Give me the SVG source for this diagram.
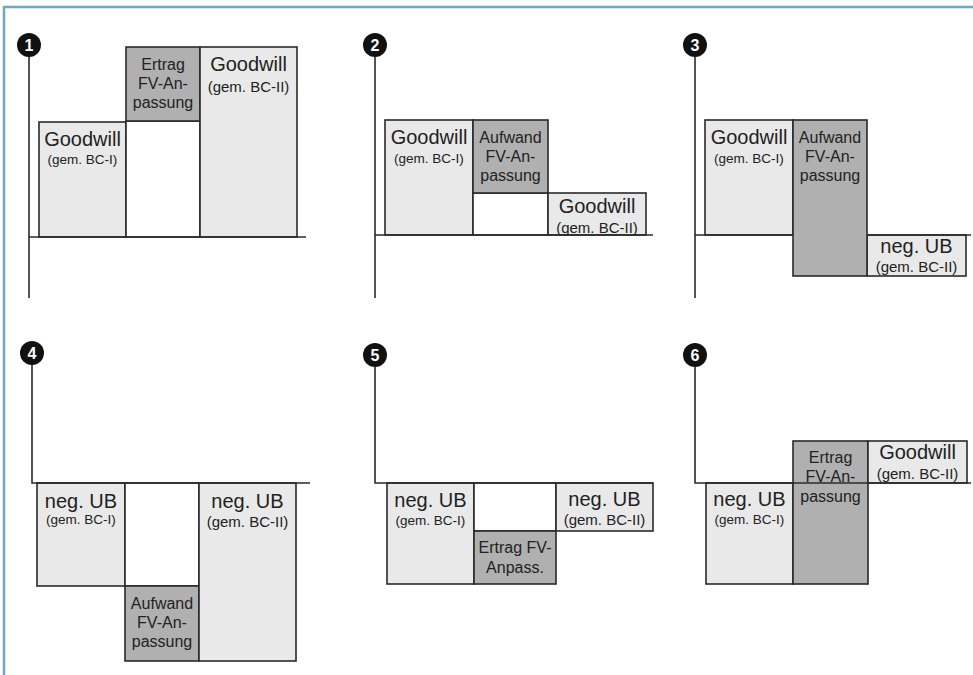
<svg xmlns="http://www.w3.org/2000/svg" width="973" height="675" viewBox="0 0 973 675">
<style>
.lt{fill:#e9e9e9;stroke:#2a2a2a;stroke-width:1.6}
.dk{fill:#b0b0b0;stroke:#2a2a2a;stroke-width:1.6}
.wh{fill:#ffffff;stroke:#2a2a2a;stroke-width:1.6}
.ax{stroke:#2a2a2a;stroke-width:1.6;fill:none}
text{font-family:"Liberation Sans",Arial,sans-serif;fill:#222;text-anchor:middle}
.big{font-size:20px}
.s1{font-size:13.5px}
.s2{font-size:15px}
.md{font-size:16px}
.num{font-size:16px;font-weight:bold;fill:#fff}
.bl{fill:#111}
</style>
<rect width="973" height="675" fill="#fff"/>
<g id="frame" stroke="#6fa7c6" stroke-width="2.5" fill="none">
<line x1="3" y1="7" x2="973" y2="7"/>
<line x1="4" y1="6" x2="4" y2="675"/>
</g>

<!-- Panel 1 -->
<g id="p1">
<g id="p1-goodwill1"><rect class="lt" x="39" y="122" width="87" height="115"/><text class="big" x="82.5" y="146">Goodwill</text><text class="s1" x="82.5" y="164">(gem. BC-I)</text></g>
<g id="p1-gap"><rect class="wh" x="126" y="121" width="74" height="116"/></g>
<g id="p1-ertrag"><rect class="dk" x="126" y="47" width="74" height="74"/><text class="md" x="163" y="70">Ertrag</text><text class="md" x="163" y="89">FV-An-</text><text class="md" x="163" y="108">passung</text></g>
<g id="p1-goodwill2"><rect class="lt" x="200" y="47" width="97" height="190"/><text class="big" x="248.5" y="71">Goodwill</text><text class="s2" x="248.5" y="92">(gem. BC-II)</text></g>
<g id="p1-label"><circle class="bl" cx="29" cy="45" r="12"/><text class="num" x="29" y="51">1</text></g>
</g>

<!-- Panel 2 -->
<g id="p2">
<g id="p2-goodwill1"><rect class="lt" x="385" y="120" width="88" height="115"/><text class="big" x="429" y="144">Goodwill</text><text class="s1" x="429" y="163">(gem. BC-I)</text></g>
<g id="p2-gap"><rect class="wh" x="473" y="193" width="75" height="42"/></g>
<g id="p2-aufwand"><rect class="dk" x="473" y="120" width="75" height="73"/><text class="md" x="510.5" y="143">Aufwand</text><text class="md" x="510.5" y="162">FV-An-</text><text class="md" x="510.5" y="181">passung</text></g>
<g id="p2-goodwill2"><rect class="lt" x="548" y="193" width="98" height="42"/><text class="big" x="597" y="213">Goodwill</text><text class="s2" x="597" y="233">(gem. BC-II)</text></g>
<g id="p2-label"><circle class="bl" cx="375" cy="45" r="12"/><text class="num" x="375" y="51">2</text></g>
</g>

<!-- Panel 3 -->
<g id="p3">
<g id="p3-goodwill1"><rect class="lt" x="705" y="120" width="88" height="115"/><text class="big" x="749" y="144">Goodwill</text><text class="s1" x="749" y="163">(gem. BC-I)</text></g>
<g id="p3-ub"><rect class="lt" x="867" y="235" width="99" height="41"/><text class="big" x="916.5" y="253">neg. UB</text><text class="s2" x="916.5" y="272">(gem. BC-II)</text></g>
<g id="p3-label"><circle class="bl" cx="695" cy="45" r="12"/><text class="num" x="695" y="51">3</text></g>
</g>

<!-- Panel 4 -->
<g id="p4">
<g id="p4-ub1"><rect class="lt" x="37" y="483" width="88" height="103"/><text class="big" x="81" y="508">neg. UB</text><text class="s1" x="81" y="524">(gem. BC-I)</text></g>
<g id="p4-gap"><rect class="wh" x="125" y="483" width="74" height="103"/></g>
<g id="p4-aufwand"><rect class="dk" x="125" y="586" width="74" height="75"/><text class="md" x="162" y="609">Aufwand</text><text class="md" x="162" y="628">FV-An-</text><text class="md" x="162" y="647">passung</text></g>
<g id="p4-ub2"><rect class="lt" x="199" y="483" width="97" height="178"/><text class="big" x="247.5" y="508">neg. UB</text><text class="s2" x="247.5" y="527">(gem. BC-II)</text></g>
<g id="p4-label"><circle class="bl" cx="32" cy="353" r="12"/><text class="num" x="32" y="359">4</text></g>
</g>

<!-- Panel 5 -->
<g id="p5">
<g id="p5-ub1"><rect class="lt" x="387" y="483" width="87" height="101"/><text class="big" x="430.5" y="507">neg. UB</text><text class="s1" x="430.5" y="525">(gem. BC-I)</text></g>
<g id="p5-gap"><rect class="wh" x="474" y="483" width="82" height="48"/></g>
<g id="p5-ertrag"><rect class="dk" x="474" y="531" width="82" height="53"/><text class="md" x="515" y="553">Ertrag FV-</text><text class="md" x="515" y="573">Anpass.</text></g>
<g id="p5-ub2"><rect class="lt" x="556" y="483" width="97" height="48"/><text class="big" x="604.5" y="506">neg. UB</text><text class="s2" x="604.5" y="525">(gem. BC-II)</text></g>
<g id="p5-label"><circle class="bl" cx="375" cy="355" r="12"/><text class="num" x="375" y="361">5</text></g>
</g>

<!-- Panel 6 -->
<g id="p6">
<g id="p6-ub1"><rect class="lt" x="706" y="483" width="87" height="101"/><text class="big" x="749.5" y="506">neg. UB</text><text class="s1" x="749.5" y="524">(gem. BC-I)</text></g>
<g id="p6-ertrag"><rect class="dk" x="793" y="441" width="75" height="143"/><text class="md" x="830.5" y="463">Ertrag</text><text class="md" x="830.5" y="482">FV-An-</text><text class="md" x="830.5" y="502">passung</text></g>
<g id="p6-goodwill2"><rect class="lt" x="868" y="441" width="99" height="42"/><text class="big" x="917.5" y="459">Goodwill</text><text class="s2" x="917.5" y="479">(gem. BC-II)</text></g>
<g id="p6-label"><circle class="bl" cx="695" cy="355" r="12"/><text class="num" x="695" y="361">6</text></g>
</g>

<!-- Axes -->
<g id="connectors">
<line class="ax" x1="29" y1="57" x2="29" y2="298"/><line class="ax" x1="29" y1="237" x2="306" y2="237"/>
<line class="ax" x1="375" y1="57" x2="375" y2="298"/><line class="ax" x1="375" y1="235" x2="653" y2="235"/>
<line class="ax" x1="695" y1="57" x2="695" y2="298"/><line class="ax" x1="695" y1="235" x2="793" y2="235"/><line class="ax" x1="867" y1="235" x2="971" y2="235"/>
<path class="ax" d="M32 365 V483 H310"/>
<path class="ax" d="M375 367 V483 H653"/>
<path class="ax" d="M695 367 V483 H971"/>
</g>
<!-- Panel 3 dark box drawn over the axis -->
<g id="p3-aufwand"><rect class="dk" x="793" y="120" width="74" height="156"/><text class="md" x="830" y="143">Aufwand</text><text class="md" x="830" y="162">FV-An-</text><text class="md" x="830" y="181">passung</text></g>
</svg>
